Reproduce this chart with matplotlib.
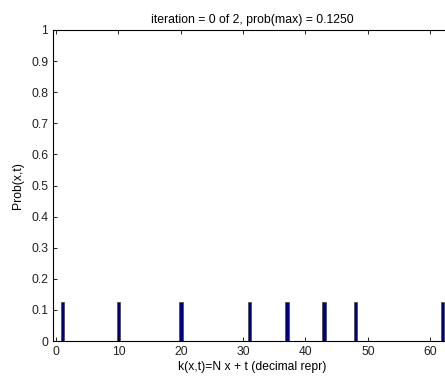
import numpy as np
import matplotlib.pyplot as plt

plt.rcParams['font.family'] = ['Liberation Sans', 'DejaVu Sans']

# estados com probabilidade nao nula
k = [1, 10, 20, 31, 37, 43, 48, 62]
prob = [0.125, 0.125, 0.125, 0.125, 0.125, 0.125, 0.125, 0.125]
titulo = "iteration = 0 of 2, prob(max) = 0.1250"

fig = plt.figure(figsize=(4.45, 3.76), dpi=100)
ax = fig.add_axes([53/445, 35/376, 399/445, 311/376])

ax.bar(k, prob, width=0.55, color="#000080", edgecolor="#444444", linewidth=0.5)

ax.set_xlim(-0.5, 63.5)
ax.set_ylim(0, 1)
ax.set_xticks(np.arange(0, 61, 10))
ax.set_yticks(np.arange(0, 1.01, 0.1))
ax.set_yticklabels(["0"] + [f"{v:.1f}" for v in np.arange(0.1, 0.95, 0.1)] + ["1"])
ax.tick_params(direction="in", top=True, right=True, labelsize=8.7, length=3, width=0.6,
               labelcolor="#222222")
for s in ax.spines.values():
    s.set_linewidth(0.8)

ax.set_title(titulo, fontsize=8.8, pad=5)
ax.set_xlabel("k(x,t)=N x + t (decimal repr)", fontsize=8.7, labelpad=2)
ax.set_ylabel("Prob(x,t)", fontsize=8.7, labelpad=5)

plt.savefig("out.png", dpi=100)
